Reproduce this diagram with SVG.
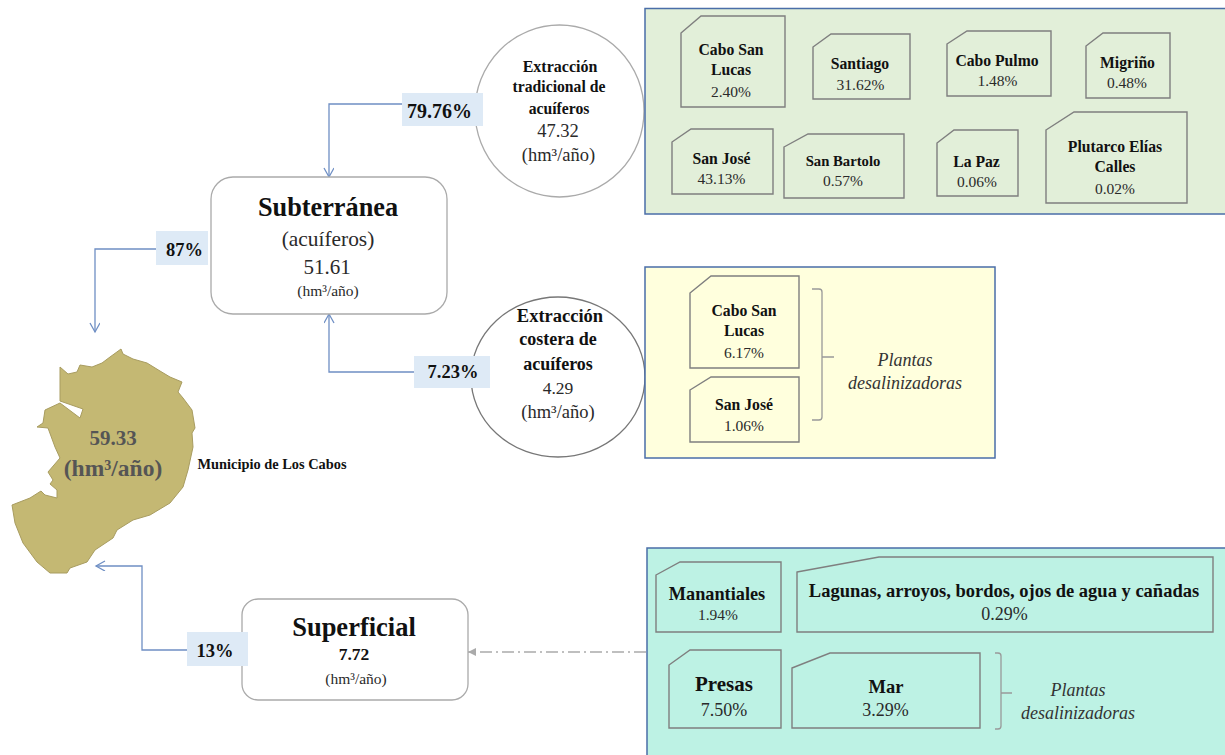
<svg xmlns="http://www.w3.org/2000/svg" width="1225" height="755" viewBox="0 0 1225 755">
<style>
text{font-family:"Liberation Serif","Times New Roman",serif;text-anchor:middle;fill:#2a2a2a}
.b{font-weight:bold;fill:#111}
.i{font-style:italic;fill:#333}
.n{font-size:15.7px;font-weight:bold;fill:#111}
.v{font-size:15.5px}
.pc{font-size:18.5px;font-weight:bold;fill:#111}
.t{stroke:#7f7f7f;stroke-width:1.4;fill:none}
.c{stroke:#6f8fc4;stroke-width:1.3;fill:none}
.p{fill:#deeaf6}
.panel{stroke:#4a6ea8;stroke-width:1.5}
.br{stroke:#999;stroke-width:1.3;fill:none}
</style>
<defs>
<marker id="a" markerWidth="12" markerHeight="12" refX="10" refY="5" orient="auto" markerUnits="userSpaceOnUse"><path d="M1 0L10 5L1 10" fill="none" stroke="#6f8fc4" stroke-width="1.3"/></marker>
<marker id="g" markerWidth="10" markerHeight="10" refX="8" refY="4" orient="auto" markerUnits="userSpaceOnUse"><path d="M0 0L8 4L0 8Z" fill="#aaa"/></marker>
</defs>

<g id="map">
<path d="M121 349L123 354L133 359L147 363L160 371L170 377L182 382L178 392L183 398L192 410L195 428L192 433L193 447L188 470L183 487L170 503L150 515L133 520L117 530L113 538L95 550L87 562L70 568L67 573L50 573L37 562L23 543L15 523L12 505L30 498L41 491L45 495L57 498L57 490L50 484L53 480L48 472L60 458L55 447L48 428L37 427L43 423L45 410L60 403L80 418L83 409L60 401L60 367L68 374L77 372L80 365L92 367L102 363L110 357Z" fill="#c4b873" stroke="#a89c60" stroke-width="1"/>
<text x="113" y="445" font-size="21" font-weight="bold" style="fill:#555">59.33</text>
<text x="113" y="476" font-size="23.5" font-weight="bold" style="fill:#555">(hm³/año)</text>
<text x="272" y="469" font-size="14.4" class="b">Municipio de Los Cabos</text>
</g>

<g id="connectors">
<path class="c" d="M402 104H329V177" marker-end="url(#a)"/>
<path class="c" d="M156 249H95V332" marker-end="url(#a)"/>
<path class="c" d="M414 372H329V314" marker-end="url(#a)"/>
<path class="c" d="M187 650H142V566H96" marker-end="url(#a)"/>
<path d="M646 652H468" fill="none" stroke="#aaa" stroke-width="1.3" stroke-dasharray="12 4 2 4" marker-end="url(#g)"/>
</g>

<g id="subterranea">
<rect x="211" y="177" width="236" height="137" rx="22" fill="#fff" stroke="#aaa" stroke-width="1.3"/>
<text x="328" y="216" font-size="26.3" class="b">Subterránea</text>
<text x="328" y="246" font-size="21.4">(acuíferos)</text>
<text x="327" y="274" font-size="21">51.61</text>
<text x="328" y="296" font-size="15.5">(hm³/año)</text>
</g>

<g id="superficial">
<rect x="242" y="599" width="226" height="101" rx="16" fill="#fff" stroke="#aaa" stroke-width="1.3"/>
<text x="354" y="636" font-size="26.5" class="b">Superficial</text>
<text x="354" y="660" font-size="17.5" class="b">7.72</text>
<text x="356" y="684" font-size="15.5">(hm³/año)</text>
</g>

<g id="extraccion-tradicional">
<ellipse cx="559.5" cy="111" rx="84.5" ry="86" fill="#fff" stroke="#aaa" stroke-width="1.3"/>
<text x="560" y="72" font-size="16" class="b">Extracción</text>
<text x="559" y="92" font-size="15.7" class="b">tradicional de</text>
<text x="559" y="114" font-size="15.7" class="b">acuíferos</text>
<text x="558" y="137" font-size="18.5">47.32</text>
<text x="558.5" y="161" font-size="18.5">(hm³/año)</text>
</g>

<g id="extraccion-costera">
<ellipse cx="558" cy="377" rx="87" ry="80" fill="#fff" stroke="#777" stroke-width="1.3"/>
<text x="560" y="322" font-size="18.5" class="b">Extracción</text>
<text x="558" y="345" font-size="18" class="b">costera de</text>
<text x="558" y="370" font-size="18" class="b">acuíferos</text>
<text x="558" y="394" font-size="17.5">4.29</text>
<text x="558" y="418" font-size="18.5">(hm³/año)</text>
</g>

<g id="pct-7976"><rect class="p" x="402" y="93" width="81" height="33"/><text x="439.5" y="118" font-size="20" class="b">79.76%</text></g>
<g id="pct-87"><rect class="p" x="156" y="231" width="52" height="34"/><text x="184.5" y="256" class="pc">87%</text></g>
<g id="pct-723"><rect class="p" x="414" y="356" width="76" height="32"/><text x="453" y="378" class="pc">7.23%</text></g>
<g id="pct-13"><rect class="p" x="187" y="632" width="61" height="34"/><text x="215" y="657" class="pc">13%</text></g>

<g id="panel-green"><rect class="panel" x="645" y="8.5" width="590" height="205.5" fill="#e2efd9"/></g>
<g id="cabo-san-lucas-1"><path class="t" d="M681 33L701 16H785V107H681Z"/><text x="731" y="55" class="n">Cabo San</text><text x="731" y="75" class="n">Lucas</text><text x="731" y="97" class="v">2.40%</text></g>
<g id="santiago"><path class="t" d="M813 47L831 34H910V99H813Z"/><text x="860" y="69" class="n">Santiago</text><text x="860.5" y="90" class="v">31.62%</text></g>
<g id="cabo-pulmo"><path class="t" d="M947 44L967 31H1051V96H947Z"/><text x="997" y="66" class="n">Cabo Pulmo</text><text x="997.5" y="86" class="v">1.48%</text></g>
<g id="migrino"><path class="t" d="M1086 46L1103 33H1170V98H1086Z"/><text x="1127.5" y="68" class="n">Migriño</text><text x="1127" y="88" class="v">0.48%</text></g>
<g id="san-jose-1"><path class="t" d="M672 142L691 129H773V194H672Z"/><text x="721.5" y="164" class="n">San José</text><text x="721.5" y="184" class="v">43.13%</text></g>
<g id="san-bartolo"><path class="t" d="M784 147L808 134H904V198H784Z"/><text x="843" y="166" font-size="14.7" class="b">San Bartolo</text><text x="843" y="186" class="v">0.57%</text></g>
<g id="la-paz"><path class="t" d="M937 143L954 130H1018V196H937Z"/><text x="976.5" y="167" class="n">La Paz</text><text x="977" y="187" class="v">0.06%</text></g>
<g id="plutarco"><path class="t" d="M1046 130L1074 112H1187V203H1046Z"/><text x="1115" y="152" class="n">Plutarco Elías</text><text x="1115" y="172" class="n">Calles</text><text x="1115" y="194" class="v">0.02%</text></g>

<g id="panel-yellow"><rect class="panel" x="645" y="267" width="350" height="191" fill="#ffffdd"/></g>
<g id="cabo-san-lucas-2"><path class="t" d="M690 293L711 276H799V368H690Z"/><text x="744" y="316" class="n">Cabo San</text><text x="744" y="336" class="n">Lucas</text><text x="744" y="358" class="v">6.17%</text></g>
<g id="san-jose-2"><path class="t" d="M690 390L711 377H799V442H690Z"/><text x="744" y="410" class="n">San José</text><text x="744" y="431" class="v">1.06%</text></g>
<path class="br" d="M812 289H819Q822 289 822 292V417Q822 420 819 420H812M822 357H834"/>
<text x="905" y="366" font-size="18" class="i">Plantas</text>
<text x="905" y="389" font-size="18" class="i">desalinizadoras</text>

<g id="panel-teal"><rect class="panel" x="647" y="548" width="590" height="220" fill="#bdf2e4"/></g>
<g id="manantiales"><path class="t" d="M656 575L680 562H781V632H656Z"/><text x="717" y="600" font-size="18.3" class="b">Manantiales</text><text x="718" y="620" class="v">1.94%</text></g>
<g id="lagunas"><path class="t" d="M797 572L879 557H1213V632H797Z"/><text x="1004" y="597" font-size="18.5" class="b">Lagunas, arroyos, bordos, ojos de agua y cañadas</text><text x="1004.5" y="620" font-size="18">0.29%</text></g>
<g id="presas"><path class="t" d="M669 665L690 650H781V728H669Z"/><text x="724" y="691" font-size="21" class="b">Presas</text><text x="724" y="716" font-size="18">7.50%</text></g>
<g id="mar"><path class="t" d="M792 668L830 653H980V728H792Z"/><text x="886" y="693" font-size="18.5" class="b">Mar</text><text x="885.5" y="716" font-size="18">3.29%</text></g>
<path class="br" d="M995 653H998Q1001 653 1001 656V726Q1001 729 998 729H995M1001 693H1012"/>
<text x="1078" y="696" font-size="18" class="i">Plantas</text>
<text x="1078" y="719" font-size="18" class="i">desalinizadoras</text>
</svg>
